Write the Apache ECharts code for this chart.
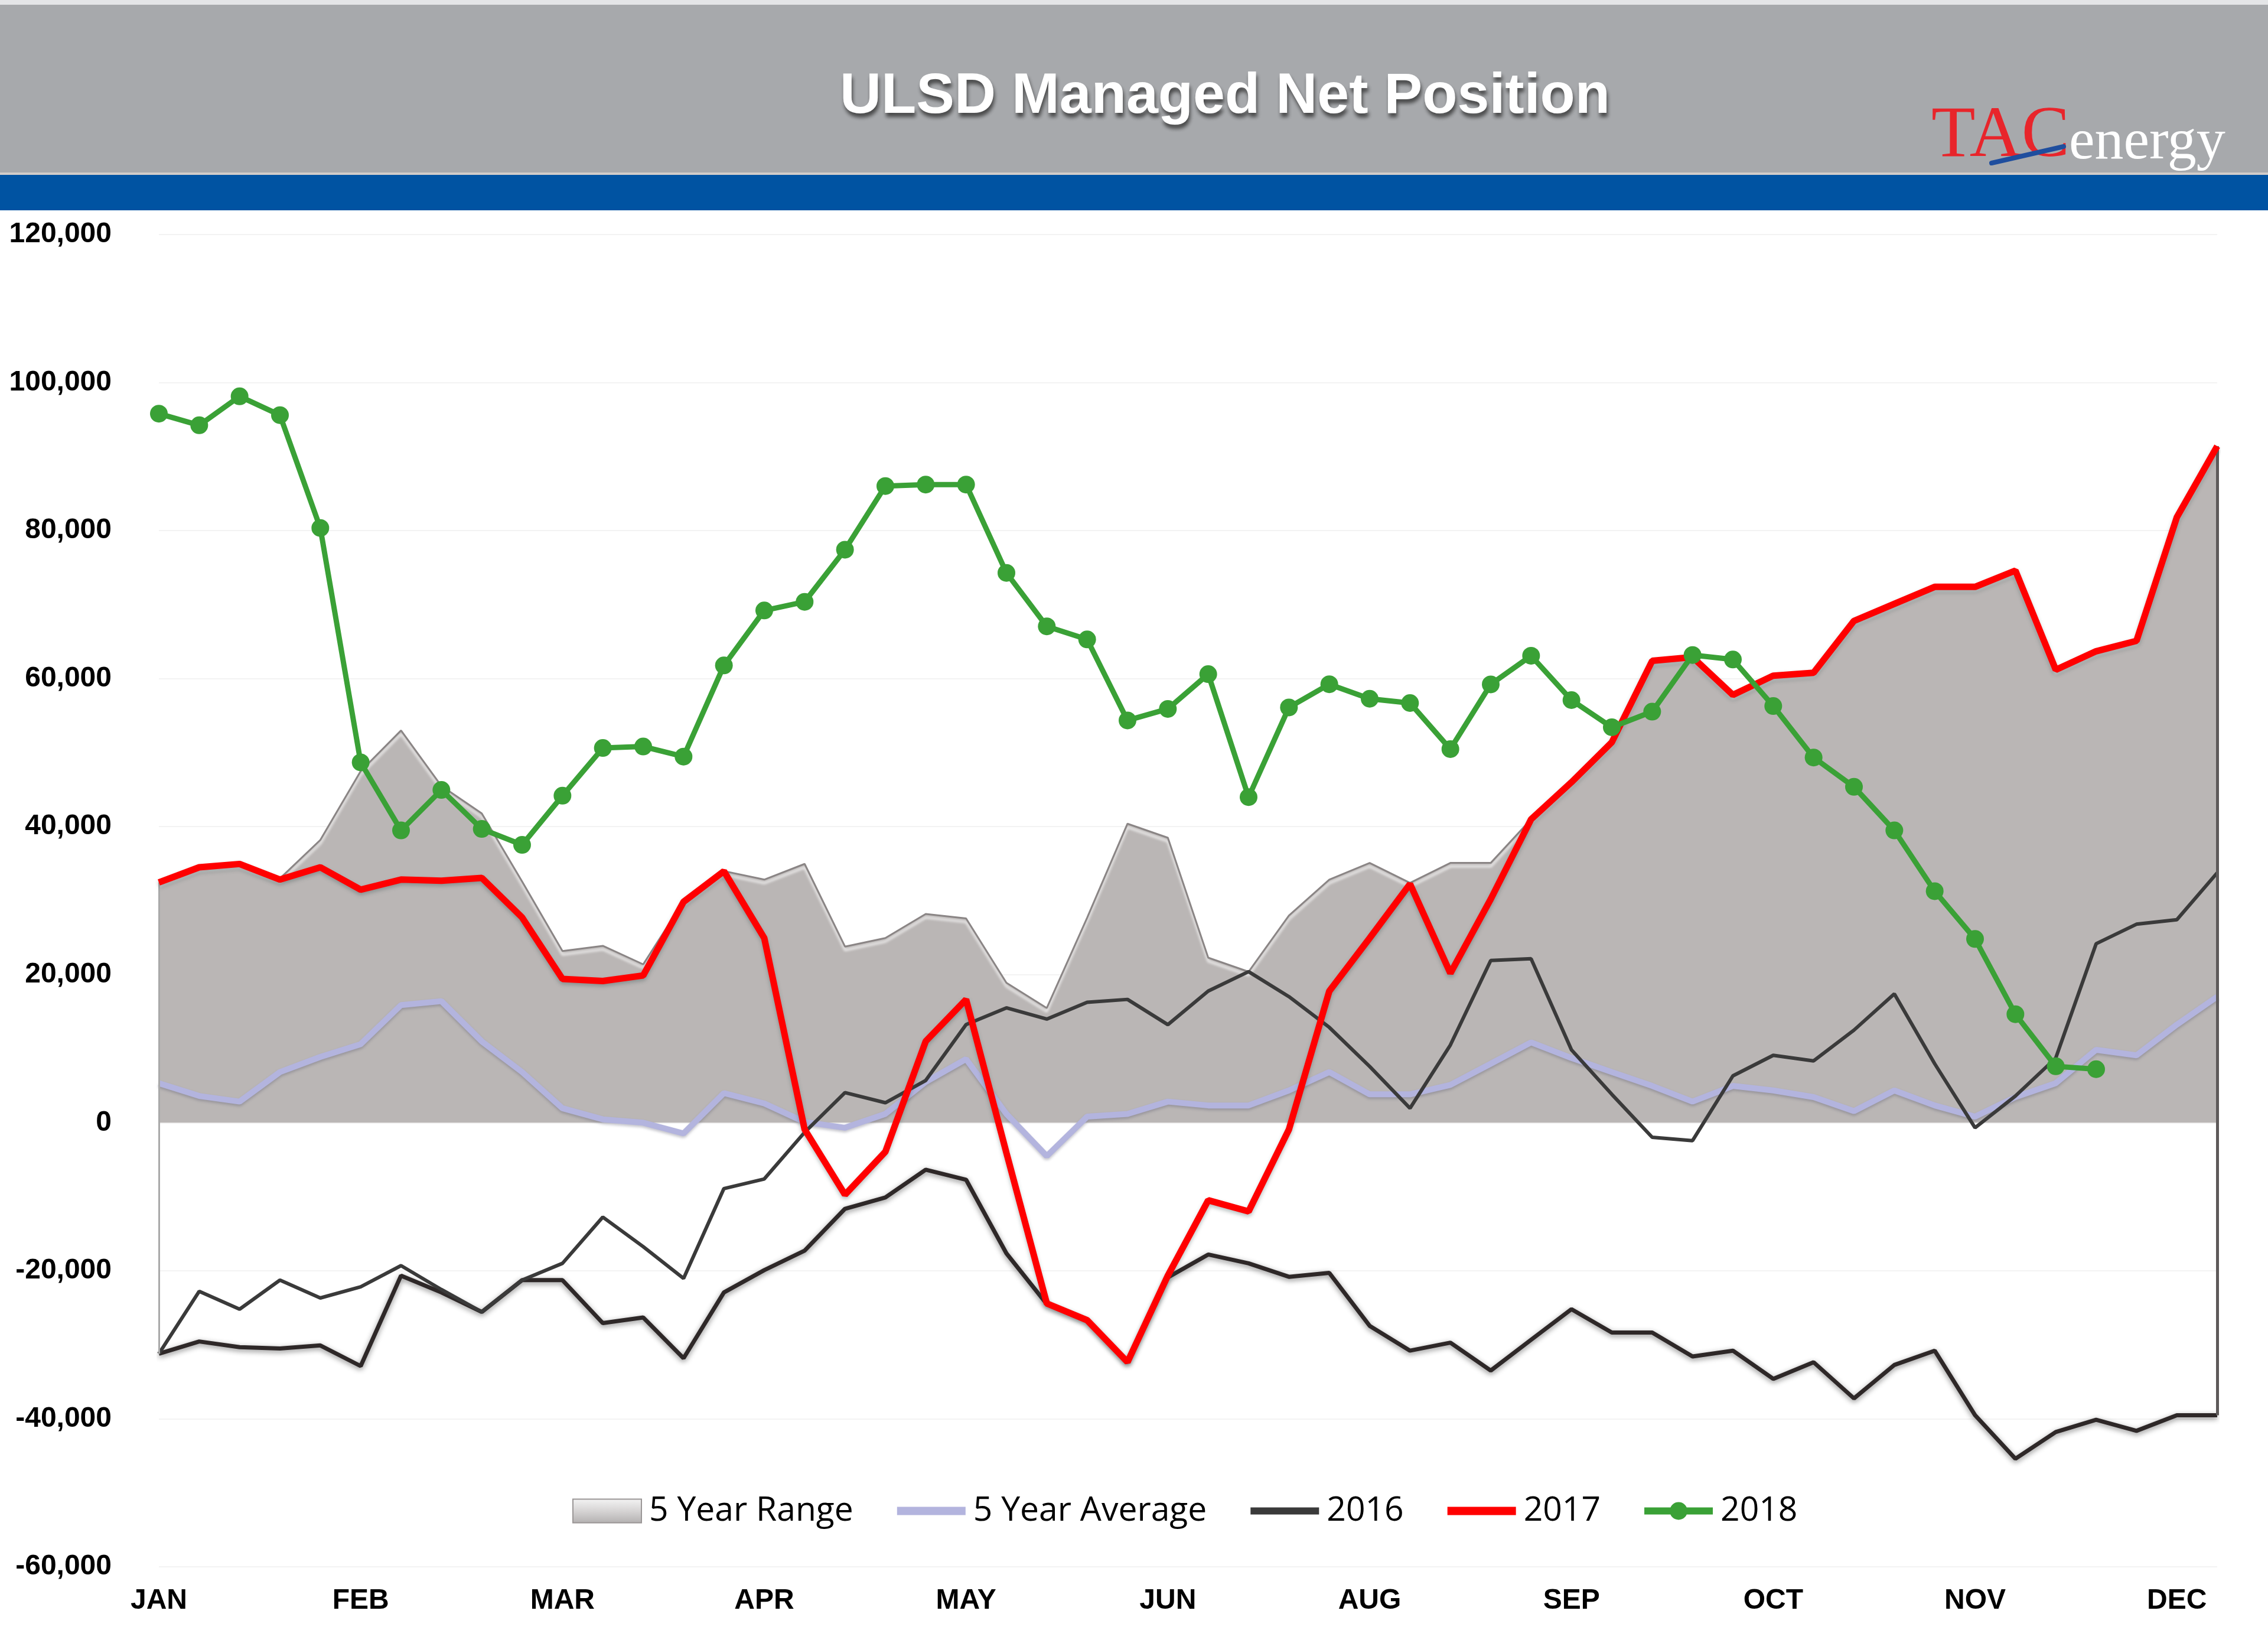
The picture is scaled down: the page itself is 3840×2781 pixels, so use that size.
<!DOCTYPE html>
<html>
<head>
<meta charset="utf-8">
<script src="https://cdn.jsdelivr.net/npm/echarts@6/dist/echarts.min.js"></script>
<style>
html,body{margin:0;padding:0;background:#ffffff;}
#chart{width:3840px;height:2781px;}
</style>
</head>
<body>
<div id="chart"></div>
<script>
// ---- tick labels ----
const monthLabels = ['JAN','FEB','MAR','APR','MAY','JUN','AUG','SEP','OCT','NOV','DEC'];
const weeks = ['W1','W2','W3','W4','W5','W6','W7','W8','W9','W10','W11','W12','W13','W14','W15','W16','W17','W18','W19','W20','W21','W22','W23','W24','W25','W26','W27','W28','W29','W30','W31','W32','W33','W34','W35','W36','W37','W38','W39','W40','W41','W42','W43','W44','W45','W46','W47','W48','W49','W50','W51','W52'];

// ---- series values (weekly) ----
const rangeMax = [32470,34510,34960,33000,38200,47500,53000,45500,41800,32600,23200,23900,21400,29900,34000,32850,34970,23800,24950,28200,27600,18900,15500,27700,40400,38500,22300,20400,28000,32850,35100,32400,35100,35100,41000,46000,51400,62400,62900,57800,60400,60800,67800,70100,72400,72400,74600,61200,63700,65100,81800,91400];
const rangeMin = [-31220,-29560,-30320,-30500,-30090,-32880,-20660,-22930,-25570,-21270,-21270,-27080,-26310,-31820,-22930,-19920,-17280,-11630,-10110,-6350,-7700,-17650,-24500,-26700,-32400,-20900,-17810,-19000,-20820,-20290,-27450,-30800,-29720,-33490,-29330,-25200,-28350,-28350,-31590,-30800,-34610,-32360,-37250,-32730,-30800,-39520,-45400,-41790,-40130,-41630,-39520,-39520];
const avg5 = [5340,3610,2850,6840,8890,10610,15890,16420,10990,6840,1950,450,0,-1450,4000,2600,100,-680,1190,5500,8600,1190,-4500,820,1190,2850,2330,2330,4360,6840,3830,3830,5100,7970,10850,8740,6840,4970,2850,4970,4360,3460,1560,4360,2330,820,3460,5340,9850,9110,13250,17030];
const y2016 = [-31220,-22780,-25200,-21270,-23680,-22170,-19310,-22540,-25570,-21270,-19000,-12750,-16740,-21040,-8900,-7600,-1300,4070,2700,5710,13250,15520,14000,16270,16660,13250,17790,20410,17030,12880,7600,1950,10500,21920,22150,9850,3830,-1970,-2420,6330,9110,8350,12510,17400,7970,-680,3610,8740,24180,26820,27430,33760];
const y2017 = [32470,34510,34960,32850,34510,31490,32850,32700,33080,27730,19430,19140,19890,29840,33980,24940,-900,-9730,-3930,11000,16650,-4070,-24420,-26680,-32340,-20650,-10480,-11990,-910,17780,24940,32250,20200,30210,41000,46000,51400,62400,62900,57800,60400,60800,67800,70100,72400,72400,74600,61200,63700,65100,81800,91400];
const y2018 = [95800,94230,98140,95600,80350,48680,39490,44960,39690,37540,44180,50630,50830,49460,61780,69210,70380,77420,86020,86220,86220,74290,67060,65300,54350,55910,60610,43990,56110,59240,57280,56700,50480,59220,63090,57100,53430,55540,63190,62580,56300,49340,45380,39490,31280,24830,14660,7620,7230];

const chart = echarts.init(document.getElementById('chart'), null, {renderer:'canvas', width:3840, height:2781});
const last = weeks.length - 1;

// legend glyphs (bounded to a 116x40 box)
const lineIcon = 'path://M0,0 M116,40 M0,13 L116,13 L116,27 L0,27 Z';
const thinLineIcon = 'path://M0,0 M116,40 M0,14 L116,14 L116,26 L0,26 Z';
const dotLineIcon = 'path://M0,0 M116,40 M0,14 L45,14 L45,26 L0,26 Z M71,14 L116,14 L116,26 L71,26 Z M43,20 A15,15 0 1 1 73,20 A15,15 0 1 1 43,20 Z';

const option = {
  animation: false,
  backgroundColor: '#ffffff',
  graphic: [
    {type:'rect', z:0, shape:{x:0,y:0,width:3840,height:8}, style:{fill:'#e4e5e7'}},
    {type:'rect', z:0, shape:{x:0,y:8,width:3840,height:284}, style:{fill:'#a7a9ac'}},
    {type:'rect', z:0, shape:{x:0,y:292,width:3840,height:4}, style:{fill:'#d2cdca'}},
    {type:'rect', z:0, shape:{x:0,y:296,width:3840,height:60}, style:{fill:'#0053a2'}},
    {type:'text', z:5, x:2074, y:164, style:{
      text:'ULSD Managed Net Position', fill:'#ffffff',
      font:'bold 97px "Liberation Sans", Arial, sans-serif',
      align:'center', verticalAlign:'middle',
      textAlign:'center', textVerticalAlign:'middle',
      shadowColor:'rgba(40,40,40,0.75)', shadowBlur:6, shadowOffsetX:2, shadowOffsetY:7,
      textShadowColor:'rgba(40,40,40,0.75)', textShadowBlur:6, textShadowOffsetX:2, textShadowOffsetY:7
    }},
    {type:'text', z:5, x:3270, y:293, style:{
      text:'TAC', fill:'#e8252b',
      font:'122px "Liberation Serif", "DejaVu Serif", serif',
      align:'left', verticalAlign:'bottom', textAlign:'left', textVerticalAlign:'bottom'
    }},
    {type:'line', z:6, shape:{x1:3372,y1:276,x2:3494,y2:248}, style:{stroke:'#1f4e9e', lineWidth:8, lineCap:'round'}},
    {type:'text', z:5, x:3503, y:291, style:{
      text:'energy', fill:'#ffffff',
      font:'98px "Liberation Serif", "DejaVu Serif", serif',
      align:'left', verticalAlign:'alphabetic', textAlign:'left', textVerticalAlign:'bottom',
      shadowColor:'rgba(60,60,60,0.6)', shadowBlur:4, shadowOffsetX:1, shadowOffsetY:3
    }}
  ],
  grid: {left:269, right:86, top:397, bottom:129, containLabel:false},
  legend: {
    left: 964, top: 2524,
    itemWidth: 116, itemHeight: 40, itemGap: 74,
    textStyle: {fontFamily:'"Open Sans", sans-serif', fontSize:57, color:'#000000', padding:[0,0,0,8]},
    data: [
      {name:'5 Year Range', icon:'rect', itemStyle:{
        color:{type:'linear',x:0,y:0,x2:0,y2:1,colorStops:[{offset:0,color:'#f4f4f4'},{offset:0.5,color:'#d6d4d4'},{offset:1,color:'#b3b0b0'}]},
        borderColor:'#9a9696', borderWidth:2}},
      {name:'5 Year Average', icon:lineIcon, itemStyle:{color:'#b3b4de', borderWidth:0}},
      {name:'2016', icon:thinLineIcon, itemStyle:{color:'#3a3a3a', borderWidth:0}},
      {name:'2017', icon:lineIcon, itemStyle:{color:'#ff0000', borderWidth:0}},
      {name:'2018', icon:dotLineIcon, itemStyle:{color:'#3aa136', borderWidth:0}}
    ]
  },
  xAxis: {
    type:'category', data: weeks, boundaryGap:false,
    axisLine:{show:false, onZero:false},
    axisTick:{show:false},
    splitLine:{show:false},
    axisLabel:{
      interval:4, margin:34,
      fontFamily:'"Liberation Sans", Arial, sans-serif', fontWeight:'bold', fontSize:48, color:'#000000',
      formatter: function(v, idx){ return idx % 5 === 0 ? (monthLabels[idx/5] || '') : ''; }
    }
  },
  yAxis: {
    type:'value', min:-60000, max:120000, interval:20000,
    axisLine:{show:false}, axisTick:{show:false},
    splitLine:{show:true, lineStyle:{color:'#f3f3f3', width:2}},
    axisLabel:{
      margin:80, fontFamily:'"Liberation Sans", Arial, sans-serif', fontWeight:'bold', fontSize:48, color:'#000000',
      formatter: function(v){ return echarts.format.addCommas(v); }
    }
  },
  series: [
    {
      name:'5 Year Range', type:'line', data: rangeMax, symbol:'none', z:1,
      lineStyle:{color:'#8a8585', width:3, shadowColor:'rgba(255,255,255,0.9)', shadowBlur:4, shadowOffsetY:6},
      itemStyle:{color:'#bab6b5'},
      areaStyle:{color:'#bab6b5', opacity:1},
      markLine:{
        silent:true, symbol:['none','none'], label:{show:false},
        data:[
          [{coord:[weeks[0], rangeMin[0]], lineStyle:{color:'#a9a9a9', width:3, type:'solid'}}, {coord:[weeks[0], rangeMax[0]]}],
          [{coord:[weeks[last], rangeMin[last]], lineStyle:{color:'#5e5a5a', width:5, type:'solid'}}, {coord:[weeks[last], rangeMax[last]]}],
          [{yAxis:0, lineStyle:{color:'#dcdcdc', width:3, type:'solid'}}, {yAxis:0}]
        ]
      }
    },
    {
      name:'5 Year Range Low', type:'line', data: rangeMin, symbol:'none', z:2,
      lineStyle:{color:'#2e2828', width:7, shadowColor:'rgba(0,0,0,0.45)', shadowBlur:10, shadowOffsetY:3},
      itemStyle:{color:'#2e2828'}
    },
    {
      name:'5 Year Average', type:'line', data: avg5, symbol:'none', z:3,
      lineStyle:{color:'#b3b4de', width:10, shadowColor:'rgba(90,90,110,0.35)', shadowBlur:4, shadowOffsetY:3},
      itemStyle:{color:'#b3b4de'}
    },
    {
      name:'2016', type:'line', data: y2016, symbol:'none', z:4,
      lineStyle:{color:'#3a3a3a', width:6},
      itemStyle:{color:'#3a3a3a'}
    },
    {
      name:'2017', type:'line', data: y2017, symbol:'none', z:5,
      lineStyle:{color:'#ff0000', width:11, shadowColor:'rgba(60,80,80,0.35)', shadowBlur:6, shadowOffsetY:4},
      itemStyle:{color:'#ff0000'}
    },
    {
      name:'2018', type:'line', data: y2018, symbol:'circle', symbolSize:30, z:6,
      lineStyle:{color:'#3aa136', width:9},
      itemStyle:{color:'#3aa136'}
    }
  ]
};
chart.setOption(option);
</script>
</body>
</html>
